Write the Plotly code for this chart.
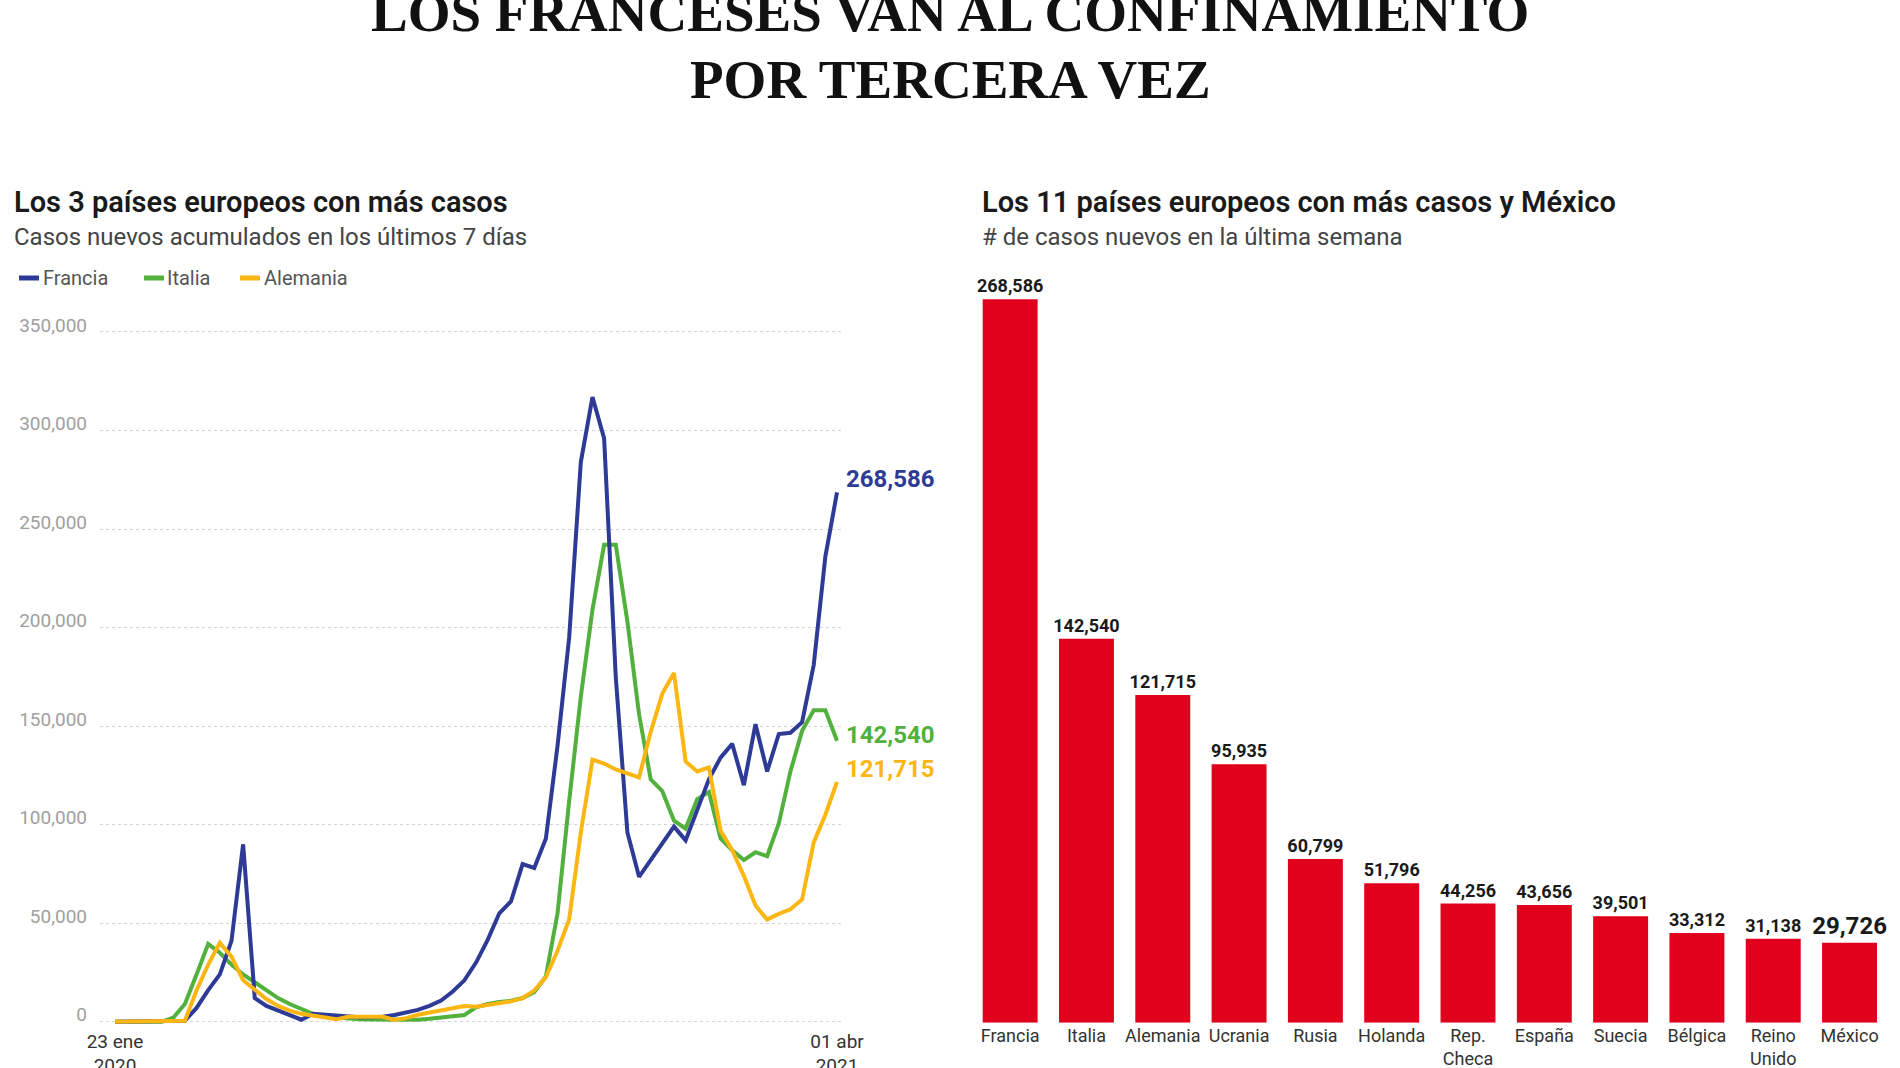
import plotly.graph_objects as go
import pandas as pd

W, H = 1900, 1068

# ---------------- data ----------------
start_date = "2020-01-23"
n_weeks = 63
fechas = pd.date_range(start_date, periods=n_weeks, freq="7D")

francia = [0, 0, 0, 0, 0, 0, 500, 7000, 16000, 24000,
           41000, 90000, 12000, 8000, 5500, 3000, 1000, 4000, 3500, 3000,
           2500, 2200, 2300, 2500, 3400, 4600, 6000, 8000, 10700, 15300,
           21000, 30000, 41500, 55000, 61000, 80000, 78000, 93000, 140000, 195000,
           284000, 317000, 296000, 175000, 96000, 73500, 82000, 90500, 99000, 92000,
           107000, 123000, 134000, 141000, 120000, 151000, 127000, 146000, 146600, 152000,
           181000, 236000, 268586]

italia = [0, 0, 0, 0, 0, 2000, 9000, 24000, 39500, 35000,
          29000, 24000, 20000, 16000, 12000, 9000, 6500, 4000, 2500, 2000,
          1500, 1200, 1100, 1000, 1000, 1000, 1000, 1500, 2200, 2900,
          3400, 7300, 9000, 10000, 10600, 12000, 15000, 23000, 55000, 112000,
          165000, 209000, 242000, 242000, 203000, 156000, 123000, 117000, 102000, 98000,
          113000, 116500, 93000, 87000, 82000, 86000, 84000, 100600, 127000, 147600,
          158000, 158000, 142540]

alemania = [0, 0, 0, 0, 0, 0, 500, 16000, 29000, 40000,
            33000, 21000, 16000, 11500, 8000, 5600, 4000, 3000, 2000, 1200,
            2500, 2500, 2500, 2500, 900, 1800, 3500, 4500, 5600, 7000,
            8000, 7600, 8600, 9300, 10300, 12000, 15800, 22600, 36000, 52000,
            96000, 133000, 131000, 128000, 126000, 124000, 147000, 166500, 177000, 132000,
            127000, 129000, 97000, 87000, 74000, 59000, 51800, 54700, 57000, 62000,
            91000, 105000, 121715]

y_ticks = [0, 50000, 100000, 150000, 200000, 250000, 300000, 350000]
x_tick_dates = ["2020-01-23", "2021-04-01"]
x_tick_text = ["23 ene<br>2020", "01 abr<br>2021"]

paises = ["Francia", "Italia", "Alemania", "Ucrania", "Rusia", "Holanda",
          "Rep.<br>Checa", "España", "Suecia", "Bélgica", "Reino<br>Unido", "México"]
casos = [268586, 142540, 121715, 95935, 60799, 51796,
         44256, 43656, 39501, 33312, 31138, 29726]

# ---------------- styles ----------------
C_FR = "#2d3a96"
C_IT = "#52b03c"
C_AL = "#fbb614"
C_BAR = "#e2011d"
FONT = "Roboto, 'Open Sans', 'Noto Sans', sans-serif"


def px(x):
    return x / W


def py(y):
    return 1 - y / H


fig = go.Figure()

series = [("Italia", italia, C_IT), ("Francia", francia, C_FR), ("Alemania", alemania, C_AL)]
for name, vals, col in series:
    fig.add_trace(go.Scatter(
        x=fechas, y=vals, name=name, mode="lines",
        line=dict(color=col, width=4, shape="linear"),
        xaxis="x", yaxis="y", hoverinfo="x+y+name",
    ))

fig.add_trace(go.Bar(
    x=paises, y=casos, xaxis="x2", yaxis="y2",
    marker=dict(color=C_BAR, line=dict(width=0)),
    texttemplate="%{y:,}", textposition="outside",
    textfont=dict(family=FONT, size=[18] * 11 + [24], color="#1a1a1a", weight="bold"),
    cliponaxis=False, constraintext="none",
))

# end-of-line labels
end_labels = [(francia, C_FR, 13), (italia, C_IT, 6), (alemania, C_AL, 13)]
annotations = []
for vals, col, ys in end_labels:
    annotations.append(dict(
        x=fechas[-1], y=vals[-1], xref="x", yref="y",
        text=f"<b>{vals[-1]:,}</b>", showarrow=False,
        xanchor="left", yanchor="middle", xshift=7, yshift=ys,
        font=dict(family=FONT, size=24, color=col),
    ))

# titles
annotations += [
    dict(x=0.5, y=py(12), xref="paper", yref="paper", showarrow=False,
         text="<b>LOS FRANCESES VAN AL CONFINAMIENTO</b>", xanchor="center", yanchor="middle",
         font=dict(family="'Liberation Serif', 'DejaVu Serif', serif", size=55, color="#111")),
    dict(x=0.5, y=py(80), xref="paper", yref="paper", showarrow=False,
         text="<b>POR TERCERA VEZ</b>", xanchor="center", yanchor="middle",
         font=dict(family="'Liberation Serif', 'DejaVu Serif', serif", size=55, color="#111")),
    dict(x=px(12), y=py(202), xref="paper", yref="paper", showarrow=False,
         text="Los 3 países europeos con más casos", xanchor="left", yanchor="middle",
         font=dict(family=FONT, size=29, color="#1a1a1a", weight=600)),
    dict(x=px(12), y=py(237), xref="paper", yref="paper", showarrow=False,
         text="Casos nuevos acumulados en los últimos 7 días", xanchor="left", yanchor="middle",
         font=dict(family=FONT, size=24, color="#444")),
    dict(x=px(980), y=py(202), xref="paper", yref="paper", showarrow=False,
         text="Los 11 países europeos con más casos y México", xanchor="left", yanchor="middle",
         font=dict(family=FONT, size=29, color="#1a1a1a", weight=600)),
    dict(x=px(980), y=py(237), xref="paper", yref="paper", showarrow=False,
         text="# de casos nuevos en la última semana", xanchor="left", yanchor="middle",
         font=dict(family=FONT, size=24, color="#444")),
]

# custom legend
shapes = []
legend_items = [("Francia", C_FR, 19, 41), ("Italia", C_IT, 144, 165), ("Alemania", C_AL, 240, 262)]
for name, col, x0, xt in legend_items:
    shapes.append(dict(type="line", xref="paper", yref="paper",
                       x0=px(x0), x1=px(x0 + 20), y0=py(278), y1=py(278),
                       line=dict(color=col, width=5)))
    annotations.append(dict(x=px(xt), y=py(278), xref="paper", yref="paper", showarrow=False,
                            text=name, xanchor="left", yanchor="middle",
                            font=dict(family=FONT, size=20, color="#555")))

# axis geometry
y_px_per = (1021.7 - 332) / 350000
y_lo, y_hi = -5000, 355000
bot = 1021.7 - y_lo * y_px_per
top = 1021.7 - y_hi * y_px_per

bar_bottom = 1022.7
bar_scale = (1022.7 - 299.3) / 268586
bar_top_val = 300000
bar_top = bar_bottom - bar_top_val * bar_scale

fig.update_layout(
    width=W, height=H, autosize=False,
    margin=dict(l=0, r=0, t=0, b=0),
    paper_bgcolor="white", plot_bgcolor="white",
    showlegend=False,
    font=dict(family=FONT),
    bargap=0.28,
    annotations=annotations,
    shapes=shapes,
    xaxis=dict(
        domain=[px(100), px(842)], anchor="y", type="date",
        range=["2020-01-13 23:00", "2021-04-04 00:00"],
        tickvals=x_tick_dates, ticktext=x_tick_text,
        showgrid=False, zeroline=False, showline=False, ticks="",
        ticklabelstandoff=-4,
        tickfont=dict(family=FONT, size=19, color="#333"),
        automargin=False,
    ),
    yaxis=dict(
        domain=[py(bot), py(top)], anchor="x",
        range=[y_lo, y_hi], tickvals=y_ticks, tickformat=",",
        showgrid=True, gridcolor="#d4d4d4", gridwidth=1, griddash="dot",
        zeroline=False, showline=False, ticks="",
        ticklabelstandoff=12, ticklabelshift=-7,
        tickfont=dict(family=FONT, size=19, color="#a0a0a0"),
        automargin=False,
    ),
    xaxis2=dict(
        domain=[px(972), px(1887.7)], anchor="y2", type="category",
        showgrid=False, zeroline=False, showline=False, ticks="",
        tickfont=dict(family=FONT, size=18, color="#333"),
        automargin=False,
    ),
    yaxis2=dict(
        domain=[py(bar_bottom), py(bar_top)], anchor="x2",
        range=[0, bar_top_val], visible=False,
        automargin=False,
    ),
)

fig.write_html("out.html")
